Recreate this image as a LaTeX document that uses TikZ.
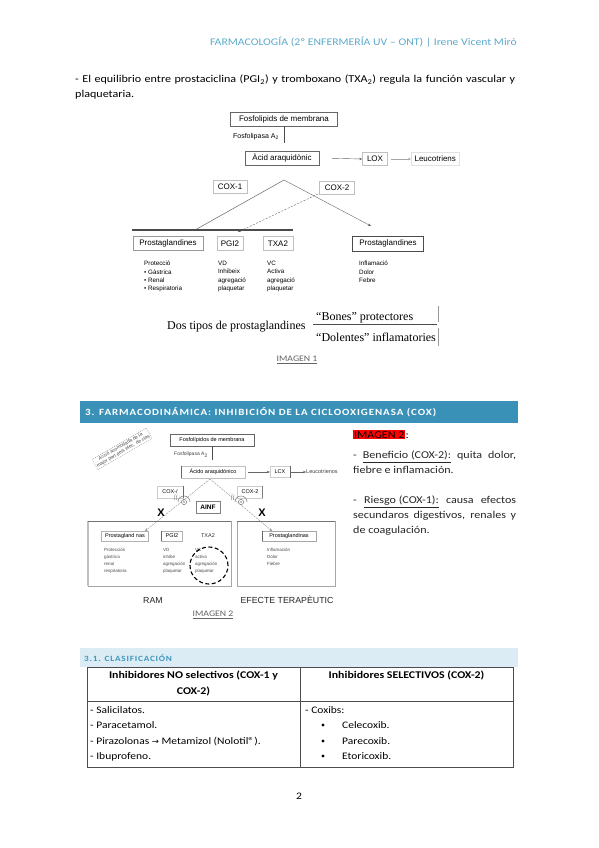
\documentclass[tikz,border=0pt]{standalone}
\usepackage{fontspec}
\setmainfont{Carlito}[FakeStretch=1.15]
\newfontfamily\arialf{Liberation Sans}
\newfontfamily\timesf{Liberation Serif}
\newfontfamily\symf{DejaVu Sans}
\newfontfamily\secf{Carlito}[FakeStretch=1.15, LetterSpace=10]
\usetikzlibrary{arrows.meta}
\definecolor{hdrblue}{RGB}{92,170,204}
\definecolor{secblue}{RGB}{58,145,184}
\definecolor{subbar}{RGB}{220,236,244}
\definecolor{subtxt}{RGB}{62,150,190}
\definecolor{imgcap}{RGB}{100,100,100}
\tikzset{
  dbox/.style={draw=black!60, line width=0.5pt, inner sep=1.5pt, minimum height=14pt, font=\arialf\fontsize{8}{9}\selectfont},
  lbox/.style={draw=black!25, line width=0.5pt, inner sep=1.5pt, minimum height=13pt, font=\arialf\fontsize{8}{9}\selectfont},
  tiny1/.style={anchor=north west, inner sep=0pt, align=left, font=\arialf\fontsize{6.3}{8.3}\selectfont},
  sbox/.style={draw=black!45, line width=0.4pt, inner sep=1pt, minimum height=11pt, font=\arialf\fontsize{5.5}{6}\selectfont},
  tiny2/.style={anchor=north west, inner sep=0pt, align=left, text=black!70, font=\arialf\fontsize{4.5}{7}\selectfont},
  thinarrow/.style={draw=black!60, line width=0.4pt, -{Stealth[length=3pt,width=2.5pt]}},
  body/.style={inner sep=0pt, font=\fontsize{10.5}{15}\selectfont},
  imgcaption/.style={inner sep=0pt, text=imgcap, font=\fontsize{8.5}{10}\selectfont},
  tabtxt/.style={anchor=base west, inner sep=0pt, font=\fontsize{10}{12}\selectfont}
}
\begin{document}
\begin{tikzpicture}[x=1pt,y=-1pt]
\useasboundingbox (0,0) rectangle (599,848);
\fill[white] (0,0) rectangle (599,848);

% header
\node[anchor=base east, inner sep=0pt, text=hdrblue, font=\fontsize{10.2}{12}\selectfont] (hdr) at (517,46) {FARMACOLOGÍA (2º ENFERMERÍA UV – ONT) | Irene Vicent Miró};

% intro paragraph
\node[body, anchor=north west, text width=440pt, align=justify] (intro) at (75,75) {- El equilibrio entre prostaciclina (PGI\textsubscript{2}) y tromboxano (TXA\textsubscript{2}) regula la función vascular y plaquetaria.};

% ===== IMAGEN 1 =====
\node[dbox, minimum width=107pt, line width=0.7pt] (fos1) at (284,119) {Fosfolipids de membrana};
\coordinate (fosend1) at (284,143);
\draw[black!70, line width=0.8pt] (fos1.south) -- (fosend1);
\node[inner sep=0pt, font=\arialf\fontsize{7}{8}\selectfont, anchor=east] (fpla1) at (279,137) {Fosfolipasa A\textsubscript{2}};
\node[dbox, minimum width=74pt] (acid1) at (282,158) {Àcid araquidònic};
\node[lbox, minimum width=25pt] (lox1) at (375,159) {LOX};
\node[lbox, draw=black!12, minimum width=48pt, anchor=west] (leu1) at (411,159) {Leucotriens};
\draw[thinarrow, shorten <=13pt] (acid1.east) -- (lox1.west);
\draw[draw=black!35, line width=0.4pt, -{Stealth[length=3pt,width=2.5pt]}, shorten <=3pt] (lox1.east) -- (leu1.west);
\coordinate (ap1) at (284,180);
\coordinate (hl1) at (132,230);
\coordinate (hr1) at (293,230);
\coordinate (lend1) at (195,230);
\coordinate (rend1) at (371,226);
\node[lbox, minimum width=34pt] (cox11) at (230,187) {COX-1};
\node[lbox, minimum width=35pt] (cox21) at (337,188) {COX-2};
\draw[black!60, line width=0.5pt] (ap1) -- (lend1);
\draw[thinarrow] (ap1) -- (rend1);
\coordinate (dstart1) at (318,194);
\coordinate (dend1) at (238,232);
\draw[thinarrow, dashed, dash pattern=on 2pt off 1.5pt] (dstart1) -- (dend1);
\draw[black!70, line width=1.3pt] (hl1) -- (hr1);
\node[lbox, draw=black!40, minimum width=70pt, minimum height=14pt] (pg1) at (168,243.5) {Prostaglandines};
\node[lbox, minimum width=26pt, minimum height=14pt] (pgi1) at (230,243.5) {PGI2};
\node[lbox, minimum width=30pt, minimum height=14pt] (txa1) at (278,243.5) {TXA2};
\node[dbox, draw=black!70, minimum width=71pt, minimum height=15pt] (pg21) at (388,243.5) {Prostaglandines};
\node[tiny1] (l11) at (144,261) {Protecció\\ • Gàstrica\\ • Renal\\ • Respiratoria};
\node[tiny1] (l12) at (218,261) {VD\\ Inhibeix\\ agregació\\ plaquetar};
\node[tiny1] (l13) at (267,261) {VC\\ Activa\\ agregació\\ plaquetar};
\node[tiny1] (l14) at (359,261) {Inflamació\\ Dolor\\ Febre};
\node[inner sep=0pt, anchor=base west, font=\timesf\fontsize{12}{13}\selectfont] (dos1) at (167,329) {Dos tipos de prostaglandines};
\node[inner sep=0pt, anchor=base west, font=\timesf\fontsize{12}{13}\selectfont] (bon1) at (316,320) {“Bones” protectores};
\node[inner sep=0pt, anchor=base west, font=\timesf\fontsize{12}{13}\selectfont] (dol1) at (316,341) {“Dolentes” inflamatories};
\coordinate (br1a) at (313,324);
\coordinate (br1b) at (437,324);
\draw[black!70, line width=0.6pt] (br1a) -- (br1b);
\coordinate (v1a) at (438,306);
\coordinate (v1b) at (438,322);
\coordinate (v1c) at (438,328);
\coordinate (v1d) at (438,346);
\draw[black!40, line width=0.6pt] (v1a) -- (v1b) (v1c) -- (v1d);
\node[imgcaption] (img1) at (297,360) {\underline{IMAGEN 1}};

% ===== Section 3 bar =====
\fill[secblue] (80,401) rectangle (518,423);
\node[anchor=west, inner sep=0pt, text=white, font=\secf\bfseries\fontsize{9.5}{10}\selectfont] (sec3) at (85,412) {3. FARMACODINÁMICA: INHIBICIÓN DE LA CICLOOXIGENASA (COX)};

% ===== IMAGEN 2 =====
\node[draw=black!50, dashed, dash pattern=on 1pt off 1pt, line width=0.3pt, rotate=30, inner sep=1pt, align=center, text=black!70, font=\arialf\fontsize{4.8}{5.3}\selectfont] (rot2) at (122,449) {Acció acomodada de la\\ major part dels efec. de clas};
\node[sbox, draw=black!60, minimum width=84pt, minimum height=12pt, line width=0.6pt] (fos2) at (212,440) {Fosfolípidos de membrana};
\coordinate (fosend2) at (212,460);
\draw[black!70, line width=0.6pt] (fos2.south) -- (fosend2);
\node[inner sep=0pt, anchor=east, text=black!75, font=\arialf\fontsize{5}{6}\selectfont] (fpla2) at (208,455) {Fosfolipasa A\textsubscript{2}};
\node[sbox, draw=black!25, minimum width=64pt, minimum height=12pt] (acid2) at (213,472) {Àcido araquidónico};
\draw[black!60, line width=0.6pt] (acid2.north west) -- (acid2.south west);
\node[sbox, draw=black!20, minimum width=20pt, minimum height=11pt] (lcx2) at (280,472) {LCX};
\node[inner sep=0pt, anchor=west, text=black!75, font=\arialf\fontsize{5.5}{6}\selectfont] (leu2) at (306,472) {Leucotrienos};
\draw[thinarrow, shorten <=3pt] (acid2.east) -- (lcx2.west);
\draw[thinarrow, shorten <=1pt] (lcx2.east) -- (leu2.west);
\draw[black!60, line width=0.6pt] (lcx2.north east) -- (lcx2.south east);
\coordinate (ap2) at (210,479);
\coordinate (lend2) at (145,531);
\coordinate (rend2) at (272,531);
\draw[thinarrow, draw=black!45, dashed, dash pattern=on 2pt off 1pt] (ap2) -- (lend2);
\draw[thinarrow, draw=black!45, dashed, dash pattern=on 2pt off 1pt] (ap2) -- (rend2);
\node[sbox, draw=black!20, minimum width=26pt, minimum height=12pt] (cox12) at (170,492) {COX-/};
\draw[black!60, line width=0.6pt] (cox12.north east) -- (cox12.south east);
\node[sbox, draw=black!20, minimum width=25pt, minimum height=12pt] (cox22) at (250,492) {COX-2};
\draw[black!50, line width=0.5pt] (cox22.north east) -- (cox22.south east);
% enzyme icons
\foreach \cx/\nm in {184/enzl, 241/enzr}{
  \coordinate (\nm) at (\cx,502);
  \draw[black!50, line width=0.5pt] (\nm) circle (2.6pt);
  \fill[black!50] (\nm) circle (0.8pt);
  \draw[black!45, line width=0.6pt] ([shift={(6,0)}]\nm) arc (0:180:6pt);
  \draw[black!40, line width=0.5pt] ([shift={(-7.5,-2)}]\nm) arc (195:150:7pt);
  \draw[black!40, line width=0.5pt] ([shift={(-9.5,-2)}]\nm) arc (195:150:8pt);
}
\node[sbox, draw=black!50, line width=0.8pt, minimum width=24pt, minimum height=12pt, font=\arialf\bfseries\fontsize{6.5}{7}\selectfont] (ainf2) at (208,507) {AINF};
\node[inner sep=0pt, font=\arialf\bfseries\fontsize{11}{12}\selectfont] (xl2) at (161,513) {X};
\node[inner sep=0pt, font=\arialf\bfseries\fontsize{11}{12}\selectfont] (xr2) at (262,513) {X};
% big boxes
\coordinate (bl1) at (88,521);
\coordinate (bl2) at (231,586);
\coordinate (br1) at (237,521);
\coordinate (br2) at (335,586);
\draw[black!35, line width=0.6pt] (bl1) rectangle (bl2);
\draw[black!25, line width=1.4pt] (bl1) -- (88,586);
\draw[black!35, line width=0.6pt] (br1) rectangle (br2);
\draw[black!55, line width=0.6pt] (bl1) -- (231,521) (br1) -- (335,521);
\node[sbox, draw=black!30, minimum width=47pt, minimum height=10pt] (pg12) at (125,536) {Prostagland nas};
\node[sbox, draw=black!30, minimum width=21pt, minimum height=10pt] (pgi2) at (172,536) {PGI2};
\draw[black!60, line width=0.6pt] (pgi2.north west) -- (pgi2.south west);
\node[inner sep=0pt, text=black!80, font=\arialf\fontsize{5.5}{6}\selectfont] (txa2) at (208,536) {TXA2};
\node[sbox, draw=black!35, minimum width=54pt, minimum height=10pt] (pg22) at (289,536) {Prostaglandinas};
\draw[black!60, line width=0.6pt] (pg22.north west) -- (pg22.south west);
\node[tiny2] (l21) at (104,548) {Protección\\ gástrica\\ renal\\ respiratoria};
\node[tiny2] (l22) at (163,548) {VD\\ inhibe\\ agregación\\ plaquetar};
\node[tiny2] (l23) at (195,548) {VC\\ activa\\ agregación\\ plaquetar};
\node[tiny2] (l24) at (267,548) {Inflamación\\ Dolor\\ Fiebre};
\draw[black, line width=1.1pt, dashed, dash pattern=on 4pt off 2.5pt] (209,565.5) ellipse (19pt and 18.5pt);
\node[inner sep=0pt, text=black!85, font=\arialf\fontsize{8.8}{10}\selectfont] (ram2) at (153,600) {RAM};
\node[inner sep=0pt, text=black!85, font=\arialf\fontsize{8.8}{10}\selectfont] (efe2) at (287,600) {EFECTE TERAPÈUTIC};
\node[imgcaption] (img2) at (213,615) {\underline{IMAGEN 2}};

% right explanatory text
\node[anchor=base west, inner sep=0.8pt, fill=red, font=\fontsize{10.5}{12}\selectfont] (im2hl) at (353,438) {IMAGEN 2};
\node[anchor=base west, inner sep=0pt, font=\fontsize{10.5}{12}\selectfont] (im2col) at (im2hl.base east) {:};
\node[body, anchor=north west, text width=163pt, align=justify, text=black!85] (ben) at (353,451) {- \underline{Beneficio (COX-2):} quita dolor, fiebre e inflamación.};
\node[body, anchor=north west, text width=163pt, align=justify, text=black!85] (rie) at (353,496) {- \underline{Riesgo (COX-1):} causa efectos secundaros digestivos, renales y de coagulación.};

% ===== 3.1 bar =====
\fill[subbar] (80,648) rectangle (518,667);
\node[anchor=west, inner sep=0pt, text=subtxt, font=\secf\bfseries\fontsize{8}{9}\selectfont] (sec31) at (84,658) {3.1. CLASIFICACIÓN};

% ===== table =====
\coordinate (t1) at (87,667);
\coordinate (t2) at (513,767);
\draw[black!70, line width=0.8pt] (t1) rectangle (t2);
\coordinate (tm1) at (300,667);
\coordinate (tm2) at (300,767);
\draw[black!70, line width=0.6pt] (tm1) -- (tm2);
\coordinate (th1) at (87,701);
\coordinate (th2) at (513,701);
\draw[black!70, line width=0.6pt] (th1) -- (th2);
\node[inner sep=0pt, anchor=north, align=center, font=\bfseries\fontsize{10.3}{15.5}\selectfont] (h1) at (193.5,671) {Inhibidores NO selectivos (COX-1 y\\ COX-2)};
\node[inner sep=0pt, anchor=north, align=center, font=\bfseries\fontsize{10.3}{15.5}\selectfont] (h2) at (406.5,671) {Inhibidores SELECTIVOS (COX-2)};
\node[tabtxt] (c11) at (90,713) {- Salicilatos.};
\node[tabtxt] (c12) at (90,728) {- Paracetamol.};
\node[tabtxt] (c13) at (90,744) {- Pirazolonas {\symf\fontsize{8.5}{10}\selectfont →} Metamizol (Nolotil®).};
\node[tabtxt] (c14) at (90,759) {- Ibuprofeno.};
\node[tabtxt] (c21) at (305,713) {- Coxibs:};
\node[tabtxt] (c22) at (342,728) {Celecoxib.};
\node[tabtxt] (c23) at (342,744) {Parecoxib.};
\node[tabtxt] (c24) at (342,759) {Etoricoxib.};
\foreach \yy/\nm in {725/b1, 741/b2, 756/b3}{\fill (323,\yy) circle (1.6pt) coordinate (\nm);}

% page number
\node[inner sep=0pt, font=\fontsize{10}{12}\selectfont] (pnum) at (299,796) {2};
\end{tikzpicture}
\end{document}
